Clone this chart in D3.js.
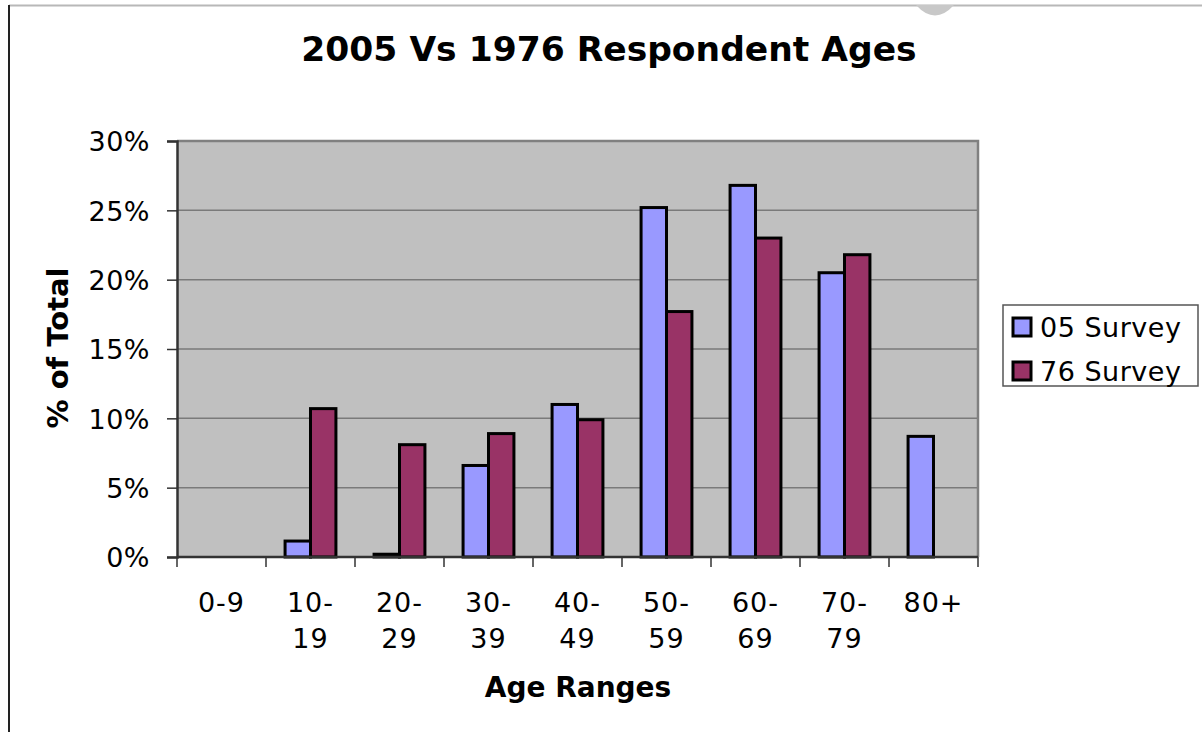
<!DOCTYPE html>
<html>
<head>
<meta charset="utf-8">
<script src="https://cdn.jsdelivr.net/npm/d3@7/dist/d3.min.js"></script>
<style>
  html, body { margin: 0; padding: 0; background: #fff; }
  svg { display: block; }
  text { font-family: "DejaVu Sans", Verdana, sans-serif; fill: #000; }
</style>
</head>
<body>
<svg id="chart" width="1202" height="732"></svg>
<script>
const categories = [["0-9"], ["10-", "19"], ["20-", "29"], ["30-", "39"], ["40-", "49"], ["50-", "59"], ["60-", "69"], ["70-", "79"], ["80+"]];
const seriesNames = ["05 Survey", "76 Survey"];
const survey05 = [0, 1.15, 0.2, 6.6, 11.0, 25.2, 26.8, 20.5, 8.7];
const survey76 = [0, 10.7, 8.1, 8.9, 9.9, 17.7, 23.0, 21.8, 0];
const yTicks = [0, 5, 10, 15, 20, 25, 30];
const colors = ["#9999FF", "#993366"];

const svg = d3.select("#chart");

// outer frame
svg.append("line").attr("x1", 9).attr("x2", 1202).attr("y1", 5.5).attr("y2", 5.5)
  .attr("stroke", "#b8b8b8").attr("stroke-width", 2);
svg.append("line").attr("x1", 9).attr("x2", 9).attr("y1", 5).attr("y2", 732)
  .attr("stroke", "#222").attr("stroke-width", 2);
svg.append("path").attr("d", "M916,5 Q935,26 954,5 Z").attr("fill", "#c8c8c8");

const plot = { left: 177, right: 978, top: 141, bottom: 557 };
const keys = categories.map((c, i) => i);
const x = d3.scaleBand().domain(keys).range([plot.left, plot.right]).paddingInner(0).paddingOuter(0);
const inner = d3.scaleBand().domain([0, 1]).range([0, x.bandwidth()]).paddingInner(0).paddingOuter(0.75);
const y = d3.scaleLinear().domain([0, 30]).range([plot.bottom, plot.top]);

// plot background
svg.append("rect").attr("x", plot.left).attr("y", plot.top)
  .attr("width", plot.right - plot.left).attr("height", plot.bottom - plot.top)
  .attr("fill", "#C0C0C0");

// gridlines
svg.append("g").selectAll("line").data(yTicks.filter(t => t > 0)).join("line")
  .attr("x1", plot.left).attr("x2", plot.right)
  .attr("y1", d => y(d)).attr("y2", d => y(d))
  .attr("stroke", "#7a7a7a").attr("stroke-width", 1.5);

// plot border right / top
svg.append("path")
  .attr("d", `M${plot.left},${plot.top}H${plot.right}V${plot.bottom}`)
  .attr("fill", "none").attr("stroke", "#808080").attr("stroke-width", 2.5);

// bars
const data = keys.map(i => [survey05[i], survey76[i]]);
const groups = svg.append("g").selectAll("g").data(data).join("g")
  .attr("transform", (d, i) => `translate(${x(i)},0)`);
groups.selectAll("rect").data(d => d.map((v, s) => ({ v, s }))).join("rect")
  .filter(d => d.v > 0)
  .attr("x", d => inner(d.s))
  .attr("width", inner.bandwidth())
  .attr("y", d => y(d.v))
  .attr("height", d => y(0) - y(d.v))
  .attr("fill", d => colors[d.s])
  .attr("stroke", "#000").attr("stroke-width", 3);

// y axis
const yAxis = d3.axisLeft(y).tickValues(yTicks).tickFormat(d => d + "%").tickSize(10).tickPadding(17);
const yg = svg.append("g").attr("transform", `translate(${plot.left},0)`).call(yAxis);
yg.attr("font-size", null).attr("font-family", null);
yg.select(".domain").attr("stroke", "#333").attr("stroke-width", 2.5);
yg.selectAll(".tick line").attr("stroke", "#333").attr("stroke-width", 1.5);
yg.selectAll(".tick text").attr("font-size", 27).attr("dy", "0.36em").attr("letter-spacing", 0.5);

// x axis
svg.append("line").attr("x1", plot.left).attr("x2", plot.right).attr("y1", plot.bottom).attr("y2", plot.bottom)
  .attr("stroke", "#333").attr("stroke-width", 2.5);
const xTickPos = keys.map(i => x(i)).concat([plot.right]);
svg.append("g").selectAll("line").data(xTickPos).join("line")
  .attr("x1", d => d).attr("x2", d => d).attr("y1", plot.bottom).attr("y2", plot.bottom + 10)
  .attr("stroke", "#333").attr("stroke-width", 1.5);
const xl = svg.append("g").selectAll("text").data(categories).join("text")
  .attr("x", (d, i) => x(i) + x.bandwidth() / 2)
  .attr("y", 612)
  .attr("text-anchor", "middle")
  .attr("font-size", 27)
  .attr("letter-spacing", 1);
xl.selectAll("tspan").data(d => d).join("tspan")
  .attr("x", function() { return d3.select(this.parentNode).attr("x"); })
  .attr("dy", (d, i) => i === 0 ? 0 : 36)
  .text(d => d);

// titles
svg.append("text").attr("x", 609).attr("y", 61).attr("text-anchor", "middle")
  .attr("font-size", 34.5).attr("font-weight", "bold").text("2005 Vs 1976 Respondent Ages");
svg.append("text").attr("x", 578).attr("y", 697).attr("text-anchor", "middle")
  .attr("font-size", 28).attr("font-weight", "bold").text("Age Ranges");
svg.append("text").attr("transform", "translate(68,348) rotate(-90)").attr("text-anchor", "middle")
  .attr("font-size", 29).attr("font-weight", "bold").text("% of Total");

// legend
const lg = svg.append("g");
lg.append("rect").attr("x", 1003).attr("y", 305).attr("width", 195).attr("height", 81)
  .attr("fill", "#fff").attr("stroke", "#555").attr("stroke-width", 1.5);
const items = lg.selectAll("g").data(seriesNames).join("g")
  .attr("transform", (d, i) => `translate(1013,${318 + i * 44})`);
items.append("rect").attr("width", 18).attr("height", 18)
  .attr("fill", (d, i) => colors[i]).attr("stroke", "#000").attr("stroke-width", 3);
items.append("text").attr("x", 27).attr("y", 9).attr("dy", "0.36em")
  .attr("font-size", 27).attr("letter-spacing", 0.5).text(d => d);
</script>
</body>
</html>
